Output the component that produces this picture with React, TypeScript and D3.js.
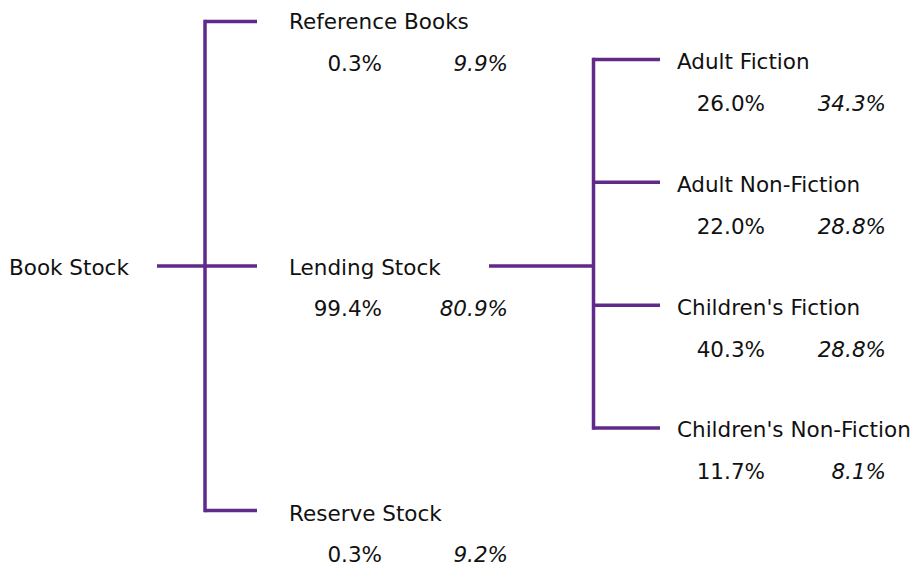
import React from "react";
import * as d3 from "d3";

const rootLabel = "Book Stock";
const level1Labels = ["Reference Books", "Lending Stock", "Reserve Stock"];
const level1Share = ["0.3%", "99.4%", "0.3%"];
const level1Issue = ["9.9%", "80.9%", "9.2%"];
const level2Parent = "Lending Stock";
const level2Labels = ["Adult Fiction", "Adult Non-Fiction", "Children's Fiction", "Children's Non-Fiction"];
const level2Share = ["26.0%", "22.0%", "40.3%", "11.7%"];
const level2Issue = ["34.3%", "28.8%", "28.8%", "8.1%"];

const W = 913;
const H = 568;
const COLOR = "#5f2a8a";
const FONT = "'DejaVu Sans', Verdana, sans-serif";
const FS = 21.5;

export default function App() {
  const root = d3.hierarchy({
    name: rootLabel,
    children: level1Labels.map((n, i) => ({
      name: n,
      share: level1Share[i],
      issue: level1Issue[i],
      children:
        n === level2Parent
          ? level2Labels.map((m, j) => ({ name: m, share: level2Share[j], issue: level2Issue[j] }))
          : undefined,
    })),
  });

  // line positions
  const y1 = d3.scalePoint<string>().domain(level1Labels).range([21.5, 510.5]);
  const y2 = d3.scalePoint<string>().domain(level2Labels).range([59.5, 428]);
  // text baselines
  const t1 = d3.scalePoint<string>().domain(level1Labels).range([29.3, 520.7]);
  const t2 = d3.scalePoint<string>().domain(level2Labels).range([69.3, 437.3]);

  const rootY = y1(level2Parent)!;
  const lending = root.children!.find((c) => c.data.name === level2Parent)!;

  const lines: JSX.Element[] = [];
  const texts: JSX.Element[] = [];

  texts.push(
    <text key="root" x={9} y={t1(level2Parent)!} fontSize={FS} fontFamily={FONT} fill="#111">
      {rootLabel}
    </text>
  );
  const vx1 = 205;
  lines.push(<line key="r-h" x1={157} x2={vx1} y1={rootY} y2={rootY} />);
  lines.push(<line key="r-v" x1={vx1} x2={vx1} y1={y1(level1Labels[0])! - 1.75} y2={y1(level1Labels[2])! + 1.75} />);

  root.children!.forEach((c, i) => {
    const y = y1(c.data.name)!;
    const ty = t1(c.data.name)!;
    lines.push(<line key={"l1-" + i} x1={vx1} x2={257} y1={y} y2={y} />);
    texts.push(
      <g key={"t1-" + i} fontFamily={FONT} fontSize={FS} fill="#111">
        <text x={289} y={ty}>{c.data.name}</text>
        <text x={382} y={ty + 41.3} textAnchor="end">{c.data.share}</text>
        <text x={508} y={ty + 41.3} textAnchor="end" fontStyle="italic">{c.data.issue}</text>
      </g>
    );
  });

  const vx2 = 593.5;
  lines.push(<line key="l-h" x1={489} x2={vx2} y1={rootY} y2={rootY} />);
  lines.push(
    <line key="l-v" x1={vx2} x2={vx2} y1={y2(level2Labels[0])! - 1.75} y2={y2(level2Labels[3])! + 1.75} />
  );
  lending.children!.forEach((c, i) => {
    const y = y2(c.data.name)!;
    const ty = t2(c.data.name)!;
    lines.push(<line key={"l2-" + i} x1={vx2} x2={660} y1={y} y2={y} />);
    texts.push(
      <g key={"t2-" + i} fontFamily={FONT} fontSize={FS} fill="#111">
        <text x={677} y={ty}>{c.data.name}</text>
        <text x={765} y={ty + 42} textAnchor="end">{c.data.share}</text>
        <text x={886} y={ty + 42} textAnchor="end" fontStyle="italic">{c.data.issue}</text>
      </g>
    );
  });

  return (
    <svg
      width={W}
      height={H}
      style={{ position: "absolute", left: 0, top: 0, background: "#fff" }}
    >
      <g stroke={COLOR} strokeWidth={3.5}>{lines}</g>
      {texts}
    </svg>
  );
}
